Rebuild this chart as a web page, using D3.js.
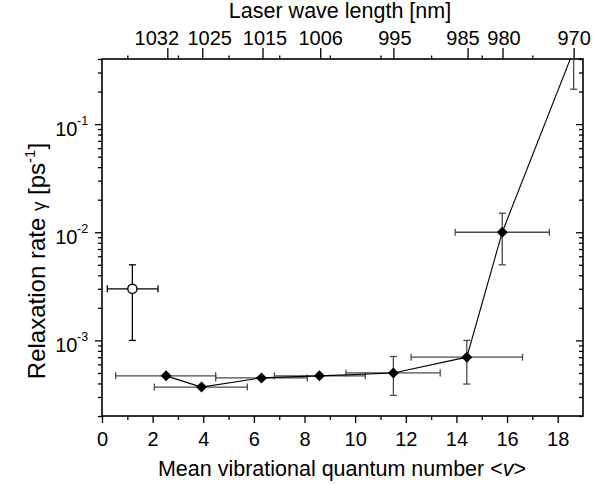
<!DOCTYPE html>
<html>
<head>
<meta charset="utf-8">
<script src="https://cdn.jsdelivr.net/npm/d3@7"></script>
<style>
  body { margin: 0; background: #fff; }
  svg text { font-family: "Liberation Sans", Arial, sans-serif; fill: #000; }
</style>
</head>
<body>
<script>
// mean vibrational quantum number <v> of each measurement (diamonds)
var vMean = [2.53, 3.93, 6.30, 8.59, 11.51, 14.41, 15.81, 18.63];
var vLow  = [0.54, 2.07, 4.49, 6.81, 9.64, 12.21, 13.95, 16.8];
var vHigh = [4.49, 5.74, 8.11, 10.40, 13.36, 16.61, 17.67, 20.4];
// relaxation rate gamma [ps^-1]
var rate     = [4.7e-4, 3.7e-4, 4.5e-4, 4.7e-4, 5.0e-4, 7.0e-4, 1.0e-2, 0.48];
var rateLow  = [null, null, null, null, 3.1e-4, 3.95e-4, 5.0e-3, 0.21];
var rateHigh = [null, null, null, null, 7.1e-4, 1.0e-3, 1.5e-2, 1.0];

// separate open-circle point
var openV = [1.2], openVLow = [0.21], openVHigh = [2.21];
var openRate = [3.0e-3], openRateLow = [1.0e-3], openRateHigh = [5.0e-3];

// top axis: laser wave length
var waveLabels = ["1032", "1025", "1015", "1006", "995", "985", "980", "970"];
var wavePos    = [2.58, 3.96, 6.34, 8.62, 11.51, 14.44, 15.82, 18.63];
var waveShift  = [-11, 7, 2, 0, 1, -5, 1, 0]; // label nudges so they don't collide

var bottomTicks = [0, 2, 4, 6, 8, 10, 12, 14, 16, 18];
var oddTicks = [1, 3, 5, 7, 9, 11, 13, 15, 17];
var yMajor = [1e-3, 1e-2, 1e-1];

var W = 609, H = 484;
var pLeft = 102, pRight = 583, pTop = 59, pBottom = 416;

var svg = d3.select("body").append("svg")
	.attr("width", W)
	.attr("height", H);

var x = d3.scaleLinear().domain([0, 19]).range([pLeft, pRight]);
var y = d3.scaleLog().domain([2e-4, 0.4]).range([pBottom, pTop]);

var yMinor = [];
[1e-4, 1e-3, 1e-2, 1e-1].forEach(function(dec){
	for (var k = 2; k <= 9; k++) {
		var v = k * dec;
		if (v >= 2e-4 * 0.999 && v <= 0.4 * 1.001) yMinor.push(v);
	}
});

function styleAxis(g){
	g.select(".domain").remove();
	g.selectAll("line").attr("stroke", "#000").attr("stroke-width", 1.3);
	g.selectAll("text").attr("font-size", 20).attr("fill", "#000")
		.attr("font-family", "Liberation Sans, Arial, sans-serif");
}

// bottom axis
svg.append("g")
	.attr("transform", "translate(0," + pBottom + ")")
	.call(d3.axisBottom(x).tickValues(bottomTicks).tickFormat(d3.format("d")).tickSize(7).tickPadding(9))
	.call(styleAxis);
svg.append("g")
	.attr("transform", "translate(0," + pBottom + ")")
	.call(d3.axisBottom(x).tickValues(oddTicks).tickFormat("").tickSize(4))
	.call(styleAxis);

// top axis
svg.append("g")
	.attr("transform", "translate(0," + pTop + ")")
	.call(d3.axisTop(x).tickValues(wavePos).tickFormat(function(d, i){ return waveLabels[i]; }).tickSize(11).tickPadding(3))
	.call(styleAxis)
	.selectAll("text")
	.attr("dx", function(d, i){ return waveShift[i]; });
svg.append("g")
	.attr("transform", "translate(0," + pTop + ")")
	.call(d3.axisTop(x).tickValues(oddTicks).tickFormat("").tickSize(3.5))
	.call(styleAxis);

// left axis
svg.append("g")
	.attr("transform", "translate(" + pLeft + ",0)")
	.call(d3.axisLeft(y).tickValues(yMajor).tickFormat("").tickSize(7))
	.call(styleAxis);
svg.append("g")
	.attr("transform", "translate(" + pLeft + ",0)")
	.call(d3.axisLeft(y).tickValues(yMinor).tickFormat("").tickSize(4))
	.call(styleAxis);

// right axis, ticks inward
svg.append("g")
	.attr("transform", "translate(" + pRight + ",0)")
	.call(d3.axisLeft(y).tickValues(yMajor).tickFormat("").tickSize(7))
	.call(styleAxis);
svg.append("g")
	.attr("transform", "translate(" + pRight + ",0)")
	.call(d3.axisLeft(y).tickValues(yMinor).tickFormat("").tickSize(4))
	.call(styleAxis);

// left tick labels: "10" plus superscript exponent
var yLab = svg.append("g");
yLab.selectAll(".base")
	.data(yMajor)
	.enter()
	.append("text")
	.attr("class", "base")
	.attr("x", pLeft - 24.5)
	.attr("y", function(d){ return y(d) + 12; })
	.attr("text-anchor", "end")
	.attr("font-size", 20)
	.text("10");
yLab.selectAll(".exp")
	.data(yMajor)
	.enter()
	.append("text")
	.attr("class", "exp")
	.attr("x", pLeft - 25)
	.attr("y", function(d){ return y(d) + 0.5; })
	.attr("text-anchor", "start")
	.attr("font-size", 12.5)
	.text(function(d){ return "-" + Math.round(-Math.log10(d)); });

// frame
svg.append("rect")
	.attr("x", pLeft).attr("y", pTop)
	.attr("width", pRight - pLeft).attr("height", pBottom - pTop)
	.attr("fill", "none")
	.attr("stroke", "#000")
	.attr("stroke-width", 1.6);

// titles
svg.append("text")
	.attr("x", 340).attr("y", 18)
	.attr("text-anchor", "middle")
	.attr("font-size", 21.5)
	.text("Laser wave length [nm]");

var xt = svg.append("text")
	.attr("x", 342).attr("y", 476)
	.attr("text-anchor", "middle")
	.attr("font-size", 21.5)
	.text("Mean vibrational quantum number <");
xt.append("tspan").attr("font-style", "italic").text("v");
xt.append("tspan").text(">");

var yt = svg.append("text")
	.attr("transform", "translate(45,261) rotate(-90)")
	.attr("text-anchor", "middle")
	.attr("font-size", 24)
	.text("Relaxation rate ");
yt.append("tspan").attr("font-size", 19).text("γ");
yt.append("tspan").text(" [ps");
yt.append("tspan").attr("dy", -10).attr("font-size", 15).text("-1");
yt.append("tspan").attr("dy", 10).text("]");

// data layer, clipped to plot area
svg.append("clipPath").attr("id", "clip")
	.append("rect")
	.attr("x", pLeft).attr("y", pTop)
	.attr("width", pRight - pLeft).attr("height", pBottom - pTop);

var plot = svg.append("g").attr("clip-path", "url(#clip)");

var pts = vMean.map(function(v, i){
	return { v: v, vl: vLow[i], vh: vHigh[i], r: rate[i], rl: rateLow[i], rh: rateHigh[i] };
});
var openPts = openV.map(function(v, i){
	return { v: v, vl: openVLow[i], vh: openVHigh[i], r: openRate[i], rl: openRateLow[i], rh: openRateHigh[i] };
});

function errorBars(sel, data, color){
	var cap = 3.5;
	var g = sel.append("g").attr("stroke", color).attr("stroke-width", 1.3).attr("fill", "none");
	data.forEach(function(d){
		var px = x(d.v), py = y(d.r);
		g.append("line").attr("x1", x(d.vl)).attr("x2", x(d.vh)).attr("y1", py).attr("y2", py);
		g.append("line").attr("x1", x(d.vl)).attr("x2", x(d.vl)).attr("y1", py - cap).attr("y2", py + cap);
		g.append("line").attr("x1", x(d.vh)).attr("x2", x(d.vh)).attr("y1", py - cap).attr("y2", py + cap);
		if (d.rl != null) {
			g.append("line").attr("x1", px).attr("x2", px).attr("y1", y(d.rl)).attr("y2", y(d.rh));
			g.append("line").attr("x1", px - cap).attr("x2", px + cap).attr("y1", y(d.rl)).attr("y2", y(d.rl));
			g.append("line").attr("x1", px - cap).attr("x2", px + cap).attr("y1", y(d.rh)).attr("y2", y(d.rh));
		}
	});
}

errorBars(plot, pts, "#4a4a4a");
errorBars(plot, openPts, "#000");

var line = d3.line()
	.x(function(d){ return x(d.v); })
	.y(function(d){ return y(d.r); });

plot.append("path")
	.datum(pts)
	.attr("d", line)
	.attr("fill", "none")
	.attr("stroke", "#000")
	.attr("stroke-width", 1.1);

plot.selectAll(".dia")
	.data(pts)
	.enter()
	.append("path")
	.attr("class", "dia")
	.attr("transform", function(d){ return "translate(" + x(d.v) + "," + y(d.r) + ")"; })
	.attr("d", "M0,-5.5L5.5,0L0,5.5L-5.5,0Z")
	.attr("fill", "#000");

plot.selectAll(".open")
	.data(openPts)
	.enter()
	.append("circle")
	.attr("class", "open")
	.attr("cx", function(d){ return x(d.v); })
	.attr("cy", function(d){ return y(d.r); })
	.attr("r", 4.6)
	.attr("fill", "#fff")
	.attr("stroke", "#000")
	.attr("stroke-width", 1.4);
</script>
</body>
</html>
